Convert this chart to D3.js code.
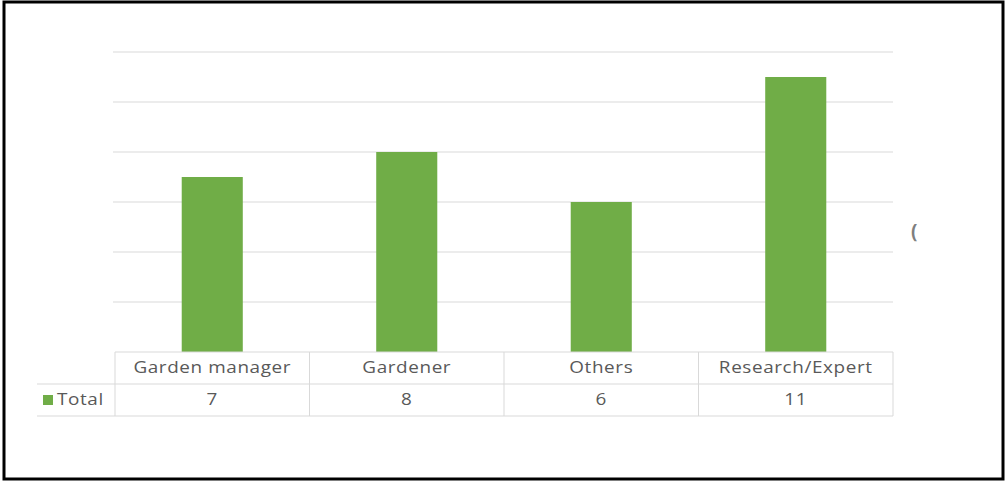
<!DOCTYPE html>
<html>
<head>
<meta charset="utf-8">
<script src="https://cdn.jsdelivr.net/npm/d3@7"></script>
<style>
  body { margin: 0; background: #fff; }
  text { font-family: "Open Sans", sans-serif; fill: #595959; }
</style>
</head>
<body>
<div id="chart"></div>
<script>
// data
var categories = ["Garden manager", "Gardener", "Others", "Research/Expert"];
var totals = [7, 8, 6, 11];
var seriesName = "Total";
var yTicks = [0, 2, 4, 6, 8, 10, 12];

var W = 1005, H = 481;
var green = "#70ad47", grid = "#d9d9d9";
var sx = 1.22; // the table labels look horizontally stretched

var svg = d3.select("#chart").append("svg")
    .attr("width", W).attr("height", H);

// outer frame
svg.append("rect")
    .attr("x", 4).attr("y", 2).attr("width", 999).attr("height", 477)
    .attr("fill", "#fff").attr("stroke", "#000").attr("stroke-width", 3);

var x = d3.scaleBand().domain(categories).range([115, 893]).padding(0);
var y = d3.scaleLinear().domain([0, 12]).range([352, 52]);

// gridlines
svg.append("g").selectAll("line")
  .data(yTicks.slice(1))
  .join("line")
    .attr("x1", 113).attr("x2", 893)
    .attr("y1", function(d) { return y(d); })
    .attr("y2", function(d) { return y(d); })
    .attr("stroke", grid).attr("stroke-width", 1);

// bars
var bw = x.bandwidth() * 0.314;
svg.append("g").selectAll("rect")
  .data(totals)
  .join("rect")
    .attr("x", function(d, i) { return x(categories[i]) + (x.bandwidth() - bw) / 2; })
    .attr("y", function(d) { return y(d); })
    .attr("width", bw)
    .attr("height", function(d) { return y(0) - y(d); })
    .attr("fill", green);

// data table under the axis
var r1 = 352, r2 = 384, r3 = 416;
var tbl = svg.append("g").attr("stroke", grid).attr("stroke-width", 1);
tbl.append("line").attr("x1", 115).attr("x2", 893).attr("y1", r1).attr("y2", r1);
tbl.append("line").attr("x1", 37).attr("x2", 893).attr("y1", r2).attr("y2", r2);
tbl.append("line").attr("x1", 37).attr("x2", 893).attr("y1", r3).attr("y2", r3);
tbl.selectAll("line.v")
  .data(categories.concat(["end"]))
  .join("line")
    .attr("class", "v")
    .attr("x1", function(d, i) { return 115 + i * x.step(); })
    .attr("x2", function(d, i) { return 115 + i * x.step(); })
    .attr("y1", r1).attr("y2", r3);

function label(g, tx, ty, anchor, str) {
  g.append("text")
    .attr("transform", "translate(" + tx + "," + ty + ") scale(" + sx + ",1)")
    .attr("text-anchor", anchor)
    .style("font-size", "15.5px")
    .style("letter-spacing", "0.5px")
    .text(str);
}

var labels = svg.append("g");
categories.forEach(function(c, i) {
  var cx = x(c) + x.bandwidth() / 2;
  label(labels, cx, 373, "middle", c);
  label(labels, cx, 405, "middle", totals[i]);
});

// legend key in the table
svg.append("rect").attr("x", 43).attr("y", 395).attr("width", 10).attr("height", 10).attr("fill", green);
label(labels, 57, 405, "start", seriesName);

// clipped axis title fragment at right
svg.append("text").attr("x", 911).attr("y", 238)
    .style("font-size", "19px").style("font-weight", "bold").style("fill", "#7f7f7f")
    .text("(");
</script>
</body>
</html>
